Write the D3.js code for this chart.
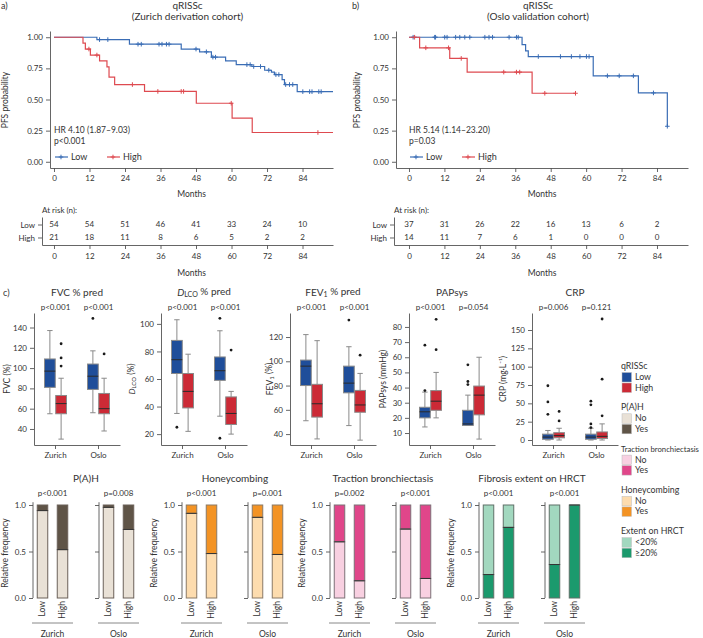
<!DOCTYPE html>
<html><head><meta charset="utf-8">
<script src="https://cdn.jsdelivr.net/npm/d3@7"></script>
<style>
body{margin:0;background:#fff}
svg text{font-family:Lato,"Noto Sans",sans-serif;fill:#333}
.ax path,.ax line{stroke:#555;stroke-width:0.9}
.ax text{font-size:8px;fill:#333}
</style>
</head><body><svg id="c" width="703" height="638"></svg>
<script>
// ---------------- DATA ----------------
const months = [0,12,24,36,48,60,72,84];
const kmGroups = ["Low","High"];
// Kaplan-Meier steps [time, survival]
const zurLowSteps = [[0,1],[14.5,0.981],[25.5,0.944],[43,0.905],[49.2,0.883],[53.2,0.84],[58,0.81],[61.6,0.78],[66.9,0.765],[71.2,0.735],[73.5,0.72],[74.5,0.70],[77.1,0.66],[77.9,0.62],[82.2,0.563]];
const zurLowCensor = [15.4,18.2,28.4,29.5,35.5,36.5,38,38.9,48,51.5,53.7,54.6,65.2,66.3,67.5,69.8,72.6,75,76,78.3,79.6,80.7,84.1,86.4,87.2,89.5,90.3];
const zurHighSteps = [[0,1],[9.8,0.952],[10.6,0.905],[12.3,0.857],[15.4,0.81],[17.9,0.762],[18.6,0.68],[20.5,0.62],[30.6,0.565],[48.1,0.47],[60.2,0.35],[67,0.235]];
const zurHighCensor = [11.8,14.5,26.5,35.1,43,43.8,59.9,89.2];
const osloLowSteps = [[0,1],[38.3,0.94],[39.5,0.89],[40.4,0.845],[62.4,0.69],[77.7,0.553],[87.5,0.285]];
const osloLowCensor = [1.4,8.7,9,12.1,12.9,15.8,17.2,18.9,20.6,25.7,27.1,28.3,33.9,36.4,37,43.8,51.3,55,57.9,60.1,61,67.2,71.2,76,82.8,87.5];
const osloHighSteps = [[0,1],[3.6,0.915],[13.8,0.83],[19.7,0.72],[41.7,0.55]];
const osloHighCensor = [1.9,5.7,13.4,17.7,32.1,36.4,37.5,46,56.4];
const zurLowEnd = 94.3, zurHighEnd = 94.3, osloLowEnd = 87.5, osloHighEnd = 56.4;
// at risk
const zurAtRiskLow = [54,54,51,46,41,33,24,10];
const zurAtRiskHigh = [21,18,11,8,6,5,2,2];
const osloAtRiskLow = [37,31,26,22,16,13,6,2];
const osloAtRiskHigh = [14,11,7,6,1,0,0,0];

// boxplots: order Zurich-Low, Zurich-High, Oslo-Low, Oslo-High; [whiskerLow,q1,median,q3,whiskerHigh]
const boxCohorts = ["Zurich","Oslo"];
const boxGroups = ["Low","High"];
const fvcBoxes = [[55,81,97,109,137],[30,55,65,73,90],[56,79,92,104,117],[38,55,60,75,90]];
const fvcOutliers = [[],[102,110,124],[149],[114]];
const dlcoBoxes = [[35,64,74,88,103],[22,39,51,64,78],[33,59,66,76,95],[20,27,35,47,51]];
const dlcoOutliers = [[25],[],[104,17],[81]];
const fev1Boxes = [[51,80,96,101,122],[36,54,65,81,117],[47,74,82,96,112],[35,58,64,76,90]];
const fev1Outliers = [[],[],[134],[105]];
const papBoxes = [[14,20,24,27,37],[20,25,31,38,50],[15,15,16,25,35],[6,22,35,41,60]];
const papOutliers = [[38,68],[65,85],[42,44,55],[]];
const crpBoxes = [[0,1,4,8,13],[0,3,6,10,16],[0,1,4,8,16],[0,2,5,11,22]];
const crpOutliers = [[35,52,74],[26,39],[17,22,48,53],[33,83,165]];
const fvcP = ["p<0.001","p<0.001"], dlcoP = ["p<0.001","p<0.001"], fev1P = ["p<0.001","p<0.001"], papP = ["p<0.001","p=0.054"], crpP = ["p=0.006","p=0.121"];
const fvcTicks = [40,60,80,100,120,140], dlcoTicks = [20,40,60,80,100], fev1Ticks = [40,60,80,100,120], papTicks = [10,20,30,40,50,60,70,80], crpTicks = [0,25,50,75,100,125,150];

// stacked bars: fraction of the bottom segment; order Zurich-Low, Zurich-High, Oslo-Low, Oslo-High
const pahNo = [0.94,0.52,0.975,0.737];
const honeyNo = [0.91,0.478,0.867,0.468];
const tractionNo = [0.604,0.185,0.741,0.21];
const extentGe20 = [0.252,0.759,0.36,1.0];
const pahP = ["p<0.001","p=0.008"], honeyP = ["p<0.001","p=0.001"], tractionP = ["p=0.002","p<0.001"], extentP = ["p<0.001","p<0.001"];
const barTicks = [0,0.5,1];
const kmTicksY = [0,0.25,0.5,0.75,1];

// legend
const legendSections = ["qRISSc","P(A)H","Traction bronchiectasis","Honeycombing","Extent on HRCT"];
const legendItems = [["Low","High"],["No","Yes"],["No","Yes"],["No","Yes"],["<20%","≥20%"]];

// ---------------- STYLE ----------------
const kmColor = {Low:"#3a6db5", High:"#de4a50"};
const boxColor = {Low:"#1f4e9a", High:"#cc2a36"};
const legendColors = [[boxColor.Low,boxColor.High],["#e9e1d6","#5f5447"],["#f8d0e1","#e0468a"],["#fddcae","#f39324"],["#a2d8bf","#1b9a6d"]];

const svg = d3.select("#c");
const FONT = 'Lato,"Noto Sans",sans-serif';

function txt(g,x,y,s,size,anchor,fill){
  return g.append("text").attr("x",x).attr("y",y).attr("font-size",size).attr("text-anchor",anchor||"start").attr("fill",fill||"#333").text(s);
}
function styleAxis(sel){ sel.attr("class","ax"); sel.selectAll("text").attr("font-family",FONT); }

// ---------------- KM ----------------
function kmPanel(cfg){
  const g = svg.append("g");
  const x = d3.scaleLinear().domain(cfg.xDomain).range(cfg.xRange);
  const y = d3.scaleLinear().domain([-0.05,1.05]).range([168,31]);
  const ya = g.append("g").attr("transform",`translate(${cfg.xRange[0]},0)`)
    .call(d3.axisLeft(y).tickValues(kmTicksY).tickFormat(d3.format(".2f")).tickSize(4).tickSizeOuter(0));
  styleAxis(ya);
  const xa = g.append("g").attr("transform","translate(0,168)")
    .call(d3.axisBottom(x).tickValues(months).tickSize(4).tickSizeOuter(0));
  styleAxis(xa);
  txt(g,cfg.label[0],9,cfg.label[1],9,"start");
  txt(g,(cfg.xRange[0]+cfg.xRange[1])/2-4,8.5,"qRISSc",10,"middle");
  txt(g,(cfg.xRange[0]+cfg.xRange[1])/2-4,19.5,cfg.sub,10,"middle");
  txt(g,(cfg.xRange[0]+cfg.xRange[1])/2,196.5,"Months",8.5,"middle");
  g.append("text").attr("transform",`translate(${cfg.ylabX},100) rotate(-90)`).attr("text-anchor","middle")
    .attr("dy","0.35em").attr("font-size",8.5).attr("fill","#333").text("PFS probability");
  txt(g,x(0),133,cfg.hr,8.5);
  txt(g,x(0),144,cfg.p,8.5);
  cfg.series.forEach(s=>{
    const last = s.steps[s.steps.length-1][1];
    const pts = s.steps.concat([[s.end,last]]);
    g.append("path").attr("d",d3.line().x(d=>x(d[0])).y(d=>y(d[1])).curve(d3.curveStepAfter)(pts))
      .attr("fill","none").attr("stroke",s.color).attr("stroke-width",1.2);
    const survAt = t => { let v=1; s.steps.forEach(d=>{ if(d[0]<=t) v=d[1]; }); return v; };
    g.selectAll(null).data(s.censor).enter().append("path")
      .attr("transform",d=>`translate(${x(d)},${y(survAt(d))})`)
      .attr("d","M-2.3,0H2.3M0,-2.3V2.3").attr("stroke",s.color).attr("stroke-width",1);
  });
  // legend
  const lx = [x(0)+1, x(0)+53];
  kmGroups.forEach((k,i)=>{
    g.append("line").attr("x1",lx[i]).attr("x2",lx[i]+13).attr("y1",157).attr("y2",157).attr("stroke",kmColor[k]).attr("stroke-width",1.2);
    g.append("path").attr("transform",`translate(${lx[i]+6},157)`).attr("d","M-2.3,0H2.3M0,-2.3V2.3").attr("stroke",kmColor[k]).attr("stroke-width",1);
    txt(g,lx[i]+16,160,k,9,"start",kmColor[k]);
  });
  // at risk table
  const xr = d3.scaleLinear().domain([x.invert(cfg.riskX), cfg.xDomain[1]]).range([cfg.riskX, cfg.xRange[1]]);
  const yr = d3.scalePoint().domain(kmGroups).range([217,245]).padding(0.577);
  txt(g,cfg.riskX,213,"At risk (n):",8);
  const ra = g.append("g").attr("transform",`translate(${cfg.riskX},0)`).call(d3.axisLeft(yr).tickSize(4).tickSizeOuter(0));
  styleAxis(ra);
  ra.selectAll(".tick text").attr("fill",d=>kmColor[d]).attr("font-size",8.5);
  const rb = g.append("g").attr("transform","translate(0,245)").call(d3.axisBottom(xr).tickValues(months).tickSize(4).tickSizeOuter(0));
  styleAxis(rb);
  rb.selectAll(".tick text").attr("dy","0.9em");
  [cfg.riskLow,cfg.riskHigh].forEach((arr,i)=>{
    g.selectAll(null).data(arr).enter().append("text").attr("x",(d,j)=>xr(months[j])).attr("y",yr(kmGroups[i]))
      .attr("dy","0.35em").attr("text-anchor","middle").attr("font-size",8).attr("fill","#333").text(d=>d);
  });
  txt(g,(cfg.xRange[0]+cfg.xRange[1])/2,276,"Months",8.5,"middle");
}

kmPanel({xDomain:[-1.35,94.3], xRange:[50,333], label:[1,"a)"], sub:"(Zurich derivation cohort)", ylabX:5,
  hr:"HR 4.10 (1.87–9.03)", p:"p<0.001", riskX:42, riskLow:zurAtRiskLow, riskHigh:zurAtRiskHigh,
  series:[{steps:zurLowSteps,censor:zurLowCensor,end:zurLowEnd,color:kmColor.Low},{steps:zurHighSteps,censor:zurHighCensor,end:zurHighEnd,color:kmColor.High}]});
kmPanel({xDomain:[-4.4,94.5], xRange:[396,688], label:[352,"b)"], sub:"(Oslo validation cohort)", ylabX:357,
  hr:"HR 5.14 (1.14–23.20)", p:"p=0.03", riskX:394, riskLow:osloAtRiskLow, riskHigh:osloAtRiskHigh,
  series:[{steps:osloLowSteps,censor:osloLowCensor,end:osloLowEnd,color:kmColor.Low},{steps:osloHighSteps,censor:osloHighCensor,end:osloHighEnd,color:kmColor.High}]});

// ---------------- BOXPLOTS ----------------
txt(svg,3,296,"c)",9);
function boxPanel(cfg){
  const g = svg.append("g");
  const x = d3.scaleBand().domain(boxCohorts).range([cfg.ax,cfg.ax+86]);
  const xh = d3.scaleBand().domain(boxGroups).range([-11,11]).paddingInner(0.04);
  const y = d3.scaleLinear().domain(cfg.domain).range([445,313]);
  styleAxis(g.append("g").attr("transform",`translate(${cfg.ax},0)`).call(d3.axisLeft(y).tickValues(cfg.ticks).tickSize(4).tickSizeOuter(0)));
  const xa = g.append("g").attr("transform","translate(0,445)").call(d3.axisBottom(x).tickSize(4).tickSizeOuter(0));
  styleAxis(xa); xa.selectAll("text").attr("font-size",8.5);
  cfg.stats.forEach((s,i)=>{
    const c = boxCohorts[Math.floor(i/2)], k = boxGroups[i%2];
    const bx = x(c)+x.bandwidth()/2+xh(k), w = xh.bandwidth(), cx = bx+w/2;
    const ln = (x1,y1,x2,y2)=>g.append("line").attr("x1",x1).attr("y1",y1).attr("x2",x2).attr("y2",y2).attr("stroke","#8a8a8a").attr("stroke-width",1);
    ln(cx,y(s[0]),cx,y(s[1])); ln(cx,y(s[3]),cx,y(s[4]));
    ln(cx-w/4,y(s[0]),cx+w/4,y(s[0])); ln(cx-w/4,y(s[4]),cx+w/4,y(s[4]));
    g.append("rect").attr("x",bx).attr("y",y(s[3])).attr("width",w).attr("height",y(s[1])-y(s[3]))
      .attr("fill",boxColor[k]).attr("stroke","#8a8a8a").attr("stroke-width",1);
    g.append("line").attr("x1",bx).attr("x2",bx+w).attr("y1",y(s[2])).attr("y2",y(s[2])).attr("stroke","#2a2a2a").attr("stroke-width",1);
    g.selectAll(null).data(cfg.out[i]).enter().append("circle").attr("cx",cx).attr("cy",d=>y(d)).attr("r",1.4).attr("fill","#1a1a1a");
  });
  const tt = g.append("text").attr("x",cfg.ax+43).attr("y",295.5).attr("text-anchor","middle").attr("font-size",10).attr("fill","#333");
  cfg.title(tt);
  boxCohorts.forEach((c,i)=>txt(g,x(c)+x.bandwidth()/2,310,cfg.p[i],8,"middle"));
  const yl = g.append("text").attr("transform",`translate(${cfg.ylx},379) rotate(-90)`).attr("text-anchor","middle").attr("dy","0.35em").attr("font-size",8.5).attr("fill","#333");
  cfg.ylabel(yl);
}
const plain = s => t => t.text(s);
const dlcoLabel = tail => t => { t.append("tspan").attr("font-style","italic").text("D"); t.append("tspan").attr("font-size","0.7em").attr("dy","0.22em").text("LCO"); t.append("tspan").attr("dy","-0.22em").text(tail); };
const fevLabel = tail => t => { t.append("tspan").text("FEV"); t.append("tspan").attr("font-size","0.7em").attr("dy","0.22em").text("1"); t.append("tspan").attr("dy","-0.22em").text(tail); };

boxPanel({ax:34, domain:[24.2,154.3], ticks:fvcTicks, stats:fvcBoxes, out:fvcOutliers, p:fvcP, title:plain("FVC % pred"), ylabel:plain("FVC (%)"), ylx:7});
boxPanel({ax:161, domain:[12.1,107.9], ticks:dlcoTicks, stats:dlcoBoxes, out:dlcoOutliers, p:dlcoP, title:dlcoLabel(" % pred"), ylabel:dlcoLabel(" (%)"), ylx:132});
boxPanel({ax:290, domain:[31,139.8], ticks:fev1Ticks, stats:fev1Boxes, out:fev1Outliers, p:fev1P, title:fevLabel(" % pred"), ylabel:fevLabel(" (%)"), ylx:270});
boxPanel({ax:409, domain:[2.1,89.2], ticks:papTicks, stats:papBoxes, out:papOutliers, p:papP, title:plain("PAPsys"), ylabel:plain("PAPsys (mmHg)"), ylx:383});
boxPanel({ax:532, domain:[-6.8,173.2], ticks:crpTicks, stats:crpBoxes, out:crpOutliers, p:crpP, title:plain("CRP"), ylabel:plain("CRP (mg·L⁻¹)"), ylx:503});

// ---------------- STACKED BARS ----------------
function barPanel(cfg){
  const g = svg.append("g");
  const y = d3.scaleLinear().domain([0,1]).range([598,505]);
  boxCohorts.forEach((c,ci)=>{
    const ax = cfg.ax+ci*66;
    const a = g.append("g").attr("transform",`translate(${ax},0)`)
      .call(d3.axisLeft(y).tickValues(barTicks).tickFormat(ci===0?d3.format(".1f"):()=>"").tickSize(4).tickSizeOuter(0));
    styleAxis(a);
    a.select(".domain").attr("d","M0,"+y(0)+"V"+y(1.03));
    const x = d3.scaleBand().domain(boxGroups).range([ax,ax+39]).paddingInner(0.475).paddingOuter(0.2125);
    boxGroups.forEach((k,ki)=>{
      const v = cfg.vals[ci*2+ki], bx = x(k), w = x.bandwidth();
      g.append("rect").attr("x",bx).attr("y",y(1)).attr("width",w).attr("height",y(v)-y(1)).attr("fill",cfg.top).attr("stroke",cfg.edge).attr("stroke-width",1);
      g.append("rect").attr("x",bx).attr("y",y(v)).attr("width",w).attr("height",y(0)-y(v)).attr("fill",cfg.bottom).attr("stroke",cfg.edge).attr("stroke-width",1);
      g.append("line").attr("x1",bx).attr("x2",bx+w).attr("y1",y(v)).attr("y2",y(v)).attr("stroke","#333").attr("stroke-width",1);
      g.append("text").attr("transform",`translate(${bx+w/2},601) rotate(-90)`).attr("text-anchor","end").attr("dy","0.35em").attr("font-size",8.5).attr("fill","#333").text(k);
    });
    g.append("line").attr("x1",ax-1).attr("x2",ax+40).attr("y1",623).attr("y2",623).attr("stroke","#888").attr("stroke-width",1);
    txt(g,ax+19.5,636.5,c,8.5,"middle");
    txt(g,ax+19.5,496,cfg.p[ci],8,"middle");
  });
  txt(g,cfg.ax+53,482,cfg.title,10,"middle");
  g.append("text").attr("transform",`translate(${cfg.ax-28},553) rotate(-90)`).attr("text-anchor","middle").attr("dy","0.35em").attr("font-size",8.5).attr("fill","#333").text("Relative frequency");
}
barPanel({ax:33, title:"P(A)H", vals:pahNo, bottom:legendColors[1][0], top:legendColors[1][1], edge:"#6b6159", p:pahP});
barPanel({ax:182, title:"Honeycombing", vals:honeyNo, bottom:legendColors[3][0], top:legendColors[3][1], edge:"#8a7a66", p:honeyP});
barPanel({ax:330, title:"Traction bronchiectasis", vals:tractionNo, bottom:legendColors[2][0], top:legendColors[2][1], edge:"#7d7077", p:tractionP});
barPanel({ax:479, title:"Fibrosis extent on HRCT", vals:extentGe20, bottom:legendColors[4][1], top:legendColors[4][0], edge:"#5f7068", p:extentP});

// ---------------- LEGEND ----------------
const lg = svg.append("g");
legendSections.forEach((s,i)=>{
  const ty = 369 + i*41.3;
  const t = txt(lg,621,ty,s,8.8);
  const maxW = 703-621-4;
  const len = t.node().getComputedTextLength();
  if (len > maxW) t.attr("font-size", (8.8*maxW/len).toFixed(2));
  legendItems[i].forEach((it,j)=>{
    const cy = ty+8+j*10.5;
    lg.append("rect").attr("x",622).attr("y",cy-4.5).attr("width",9.5).attr("height",9.5).attr("fill",legendColors[i][j]).attr("stroke","#bbb").attr("stroke-width",0.5);
    txt(lg,635,cy+3,it,8.8);
  });
});
</script>
</body></html>
